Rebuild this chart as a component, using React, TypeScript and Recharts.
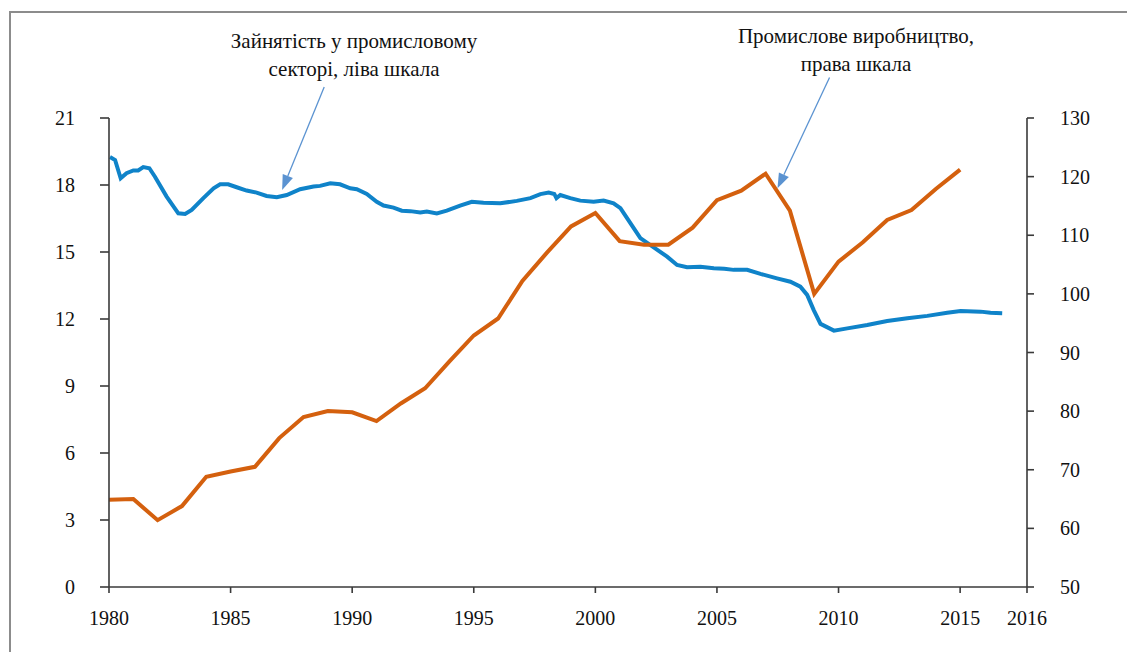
import React from 'react';
import {
  ComposedChart,
  Line,
  XAxis,
  YAxis,
  ReferenceLine,
} from 'recharts';

// Industrial production (right scale), annual
const prodYears = [
  1980, 1981, 1982, 1983, 1984, 1985, 1986, 1987, 1988, 1989, 1990, 1991,
  1992, 1993, 1994, 1995, 1996, 1997, 1998, 1999, 2000, 2001, 2002, 2003,
  2004, 2005, 2006, 2007, 2008, 2009, 2010, 2011, 2012, 2013, 2014, 2015,
];
const prodValues = [
  64.9, 65.0, 61.4, 63.8, 68.8, 69.7, 70.5, 75.4, 79.0, 80.0, 79.8, 78.3,
  81.3, 83.9, 88.5, 92.9, 95.8, 102.2, 107.0, 111.5, 113.8, 109.0, 108.4, 108.4,
  111.3, 116.0, 117.6, 120.5, 114.2, 100.0, 105.5, 108.8, 112.6, 114.3, 117.9, 121.2,
];

// Employment in manufacturing (left scale), sub-annual
const empTimes = [
  1980.04, 1980.25, 1980.48, 1980.72, 1981.0, 1981.2, 1981.41, 1981.66, 1981.89,
  1982.37, 1982.85, 1983.13, 1983.4, 1983.88, 1984.3, 1984.57, 1984.9, 1985.25,
  1985.66, 1986.07, 1986.48, 1986.9, 1987.31, 1987.86, 1988.41, 1988.68, 1989.1,
  1989.5, 1989.92, 1990.19, 1990.6, 1991.01, 1991.29, 1991.7, 1992.04, 1992.39,
  1992.8, 1993.07, 1993.48, 1993.89, 1994.44, 1994.92, 1995.4, 1996.09, 1996.77,
  1997.33, 1997.74, 1998.08, 1998.31, 1998.4, 1998.56, 1998.97, 1999.38, 1999.93,
  2000.34, 2000.75, 2001.03, 2001.44, 2001.85, 2002.4, 2002.95, 2003.36, 2003.77,
  2004.32, 2004.87, 2005.3, 2005.69, 2006.24, 2006.79, 2007.47, 2008.02, 2008.43,
  2008.71, 2008.98, 2009.26, 2009.81, 2010.36, 2011.18, 2012.0, 2012.83, 2013.65,
  2014.47, 2015.02, 2015.84, 2016.25, 2016.73,
];
const empValues = [
  19.25, 19.12, 18.3, 18.53, 18.65, 18.65, 18.8, 18.75, 18.37,
  17.48, 16.73, 16.7, 16.88, 17.41, 17.85, 18.03, 18.03, 17.9,
  17.75, 17.66, 17.51, 17.45, 17.55, 17.81, 17.93, 17.96, 18.08,
  18.03, 17.85, 17.81, 17.6, 17.25, 17.08, 16.99, 16.85, 16.83,
  16.77, 16.81, 16.73, 16.85, 17.08, 17.25, 17.21, 17.18, 17.29,
  17.41, 17.59, 17.66, 17.6, 17.41, 17.55, 17.41, 17.3, 17.25,
  17.3, 17.18, 16.96, 16.29, 15.62, 15.21, 14.79, 14.42, 14.32,
  14.34, 14.27, 14.25, 14.2, 14.2, 14.02, 13.82, 13.67, 13.45,
  13.08, 12.4, 11.78, 11.48, 11.58, 11.73, 11.91, 12.03, 12.14,
  12.28, 12.36, 12.33, 12.28, 12.26,
];

const xTicks = [1980, 1985, 1990, 1995, 2000, 2005, 2010, 2015, 2017.75];
const leftTicks = [0, 3, 6, 9, 12, 15, 18, 21];
const rightTicks = [50, 60, 70, 80, 90, 100, 110, 120, 130];

const prodData = prodYears.map((year, i) => ({ year, value: prodValues[i] }));
const empData = empTimes.map((year, i) => ({ year, value: empValues[i] }));

const AXIS = '#3a3a3a';
const FONT = "'Liberation Serif', 'DejaVu Serif', serif";
const tickStyle = { fontSize: 20, fill: '#111', fontFamily: FONT };

const Arrow = (props: any) => {
  const { x1, y1, x2, y2 } = props;
  const ang = Math.atan2(y2 - y1, x2 - x1);
  const len = 15;
  const half = 5.5;
  const bx = x2 - len * Math.cos(ang);
  const by = y2 - len * Math.sin(ang);
  const px = -Math.sin(ang) * half;
  const py = Math.cos(ang) * half;
  return (
    <g>
      <line x1={x1} y1={y1} x2={bx} y2={by} stroke="#5b93d1" strokeWidth={1.3} />
      <polygon
        points={`${x2},${y2} ${bx + px},${by + py} ${bx - px},${by - py}`}
        fill="#5b93d1"
      />
    </g>
  );
};

const noteStyle: React.CSSProperties = {
  position: 'absolute',
  width: 400,
  textAlign: 'center',
  fontFamily: FONT,
  fontSize: 21,
  lineHeight: '28px',
  color: '#111',
};

export default function App() {
  return (
    <div style={{ position: 'absolute', left: 0, top: 0, width: 1127, height: 652, background: '#fff', fontFamily: FONT }}>
      <div
        style={{
          position: 'absolute',
          left: 9,
          top: 11,
          right: 0,
          bottom: 0,
          borderLeft: '2px solid #8c8c8c',
          borderTop: '2px solid #8c8c8c',
        }}
      />
      <ComposedChart
        width={1127}
        height={652}
        margin={{ top: 118, right: 40, bottom: 25, left: 0 }}
        style={{ position: 'absolute', left: 0, top: 0, fontFamily: FONT }}
      >
        <XAxis
          dataKey="year"
          type="number"
          domain={[1980, 2017.75]}
          ticks={xTicks}
          allowDataOverflow
          tickFormatter={(v: number) => (v > 2016 ? '2016' : String(v))}
          tick={tickStyle}
          stroke={AXIS}
          strokeWidth={1.6}
          tickSize={6}
          tickMargin={18}
          height={40}
        />
        <YAxis
          yAxisId="left"
          domain={[0, 21]}
          ticks={leftTicks}
          tick={tickStyle}
          stroke={AXIS}
          strokeWidth={1.6}
          tickSize={9}
          tickMargin={25}
          width={109}
        />
        <YAxis
          yAxisId="right"
          orientation="right"
          domain={[50, 130]}
          ticks={rightTicks}
          tick={tickStyle}
          stroke={AXIS}
          strokeWidth={1.6}
          tickSize={7}
          tickMargin={26}
          width={60}
        />
        <Line
          yAxisId="left"
          data={empData}
          dataKey="value"
          type="linear"
          stroke="#0f83c9"
          strokeWidth={4}
          dot={false}
          isAnimationActive={false}
        />
        <Line
          yAxisId="right"
          data={prodData}
          dataKey="value"
          type="linear"
          stroke="#d4600e"
          strokeWidth={4}
          dot={false}
          isAnimationActive={false}
        />
        <ReferenceLine
          yAxisId="left"
          segment={[{ x: 1988.85, y: 22.39 }, { x: 1987.12, y: 17.78 }]}
          ifOverflow="visible"
          shape={Arrow}
        />
        <ReferenceLine
          yAxisId="right"
          segment={[{ x: 2009.63, y: 136.9 }, { x: 2007.49, y: 118.0 }]}
          ifOverflow="visible"
          shape={Arrow}
        />
      </ComposedChart>
      <div style={{ ...noteStyle, left: 154, top: 27 }}>
        Зайнятість у промисловому
        <br />
        секторі, ліва шкала
      </div>
      <div style={{ ...noteStyle, left: 656, top: 22 }}>
        Промислове виробництво,
        <br />
        права шкала
      </div>
    </div>
  );
}
